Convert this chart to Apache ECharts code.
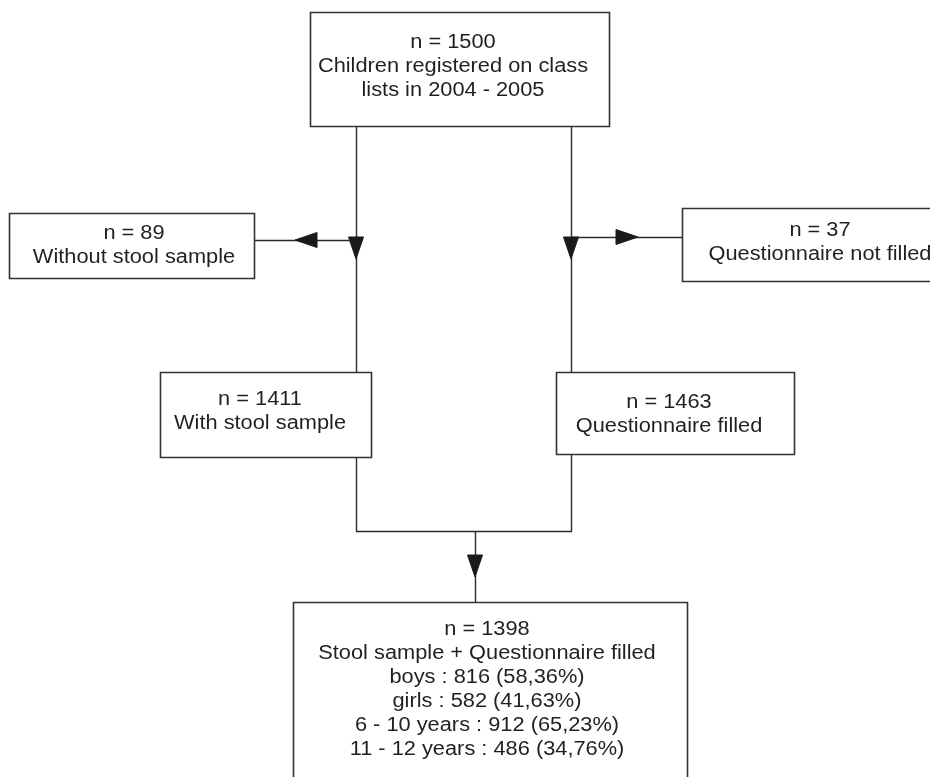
<!DOCTYPE html>
<html>
<head>
<meta charset="utf-8">
<script src="https://cdn.jsdelivr.net/npm/echarts@6/dist/echarts.min.js"></script>
<style>
html,body{margin:0;padding:0;background:#fff;}
#chart{width:930px;height:777px;}
</style>
</head>
<body>
<div id="chart"></div>
<script>
// ---- content (texts of the flowchart nodes) ----
var nodeTexts = [
  ['n = 1500', 'Children registered on class', 'lists in 2004 - 2005'],
  ['n = 89', 'Without stool sample'],
  ['n = 37', 'Questionnaire not filled'],
  ['n = 1411', 'With stool sample'],
  ['n = 1463', 'Questionnaire filled'],
  ['n = 1398', 'Stool sample + Questionnaire filled', 'boys : 816 (58,36%)', 'girls : 582 (41,63%)', '6 - 10 years : 912 (65,23%)', '11 - 12 years : 486 (34,76%)']
];

// ---- layout (data-space units of hidden axes: x 0..930, y 0..777) ----
// box: [x0, y0, x1, y1], text anchor: [cx, firstLineCenterY]
var boxRects = [
  [310, 12, 609, 126],
  [9, 213, 254, 278],
  [682, 208, 945, 281],
  [160, 372, 371, 457],
  [556, 372, 794, 454],
  [293, 602, 687, 800]
];
var textAnchors = [
  [453, 42],
  [134, 233],
  [820, 230],
  [260, 399],
  [669, 402],
  [487, 629]
];
var connectors = [
  [[356, 126], [356, 372]],
  [[571, 126], [571, 372]],
  [[356, 240], [254, 240]],
  [[571, 237], [682, 237]],
  [[356, 457], [356, 531], [571, 531], [571, 454]],
  [[475, 531], [475, 602]]
];
// arrow: [tipX, tipY, direction]
var arrows = [
  [295, 240, 'left'],
  [356, 259, 'down'],
  [571, 259, 'down'],
  [638, 237, 'right'],
  [475, 577, 'down']
];

var FONT = '20px "Liberation Sans", Arial, sans-serif';
var TEXT_COLOR = '#231f20';
var LINE_COLOR = '#2a2a2a';

var chart = echarts.init(document.getElementById('chart'), null, {renderer: 'canvas'});

function boxItem(params, api) {
  var i = params.dataIndex;
  var r = boxRects[i];
  var p0 = api.coord([r[0], r[1]]);
  var p1 = api.coord([r[2], r[3]]);
  var a = api.coord(textAnchors[i]);
  return {
    type: 'group',
    children: [
      {
        type: 'rect',
        shape: {x: Math.round(p0[0]) + 0.5, y: Math.round(p0[1]) + 0.5, width: Math.round(p1[0] - p0[0]), height: Math.round(p1[1] - p0[1])},
        style: {fill: '#fff', stroke: '#333', lineWidth: 1.6}
      },
      {
        type: 'text',
        x: a[0], y: a[1] - 12,
        scaleX: 1.09, scaleY: 1,
        style: {
          text: nodeTexts[i].join('\n'),
          x: 0, y: 0,
          align: 'center', verticalAlign: 'top',
          font: FONT, lineHeight: 24,
          fill: TEXT_COLOR
        }
      }
    ]
  };
}

function connectorItem(params, api) {
  var pts = connectors[params.dataIndex].map(function (p) {
    var c = api.coord(p);
    return [Math.round(c[0]) + 0.5, Math.round(c[1]) + 0.5];
  });
  return {
    type: 'polyline',
    shape: {points: pts},
    style: {stroke: LINE_COLOR, lineWidth: 1.4, fill: null}
  };
}

function arrowItem(params, api) {
  var a = arrows[params.dataIndex];
  var L = 22, H = 7.5;
  var tip = api.coord([a[0], a[1]]);
  var pts;
  if (a[2] === 'down') {
    pts = [[tip[0], tip[1]], [tip[0] - H, tip[1] - L], [tip[0] + H, tip[1] - L]];
  } else if (a[2] === 'left') {
    pts = [[tip[0], tip[1]], [tip[0] + L, tip[1] - H], [tip[0] + L, tip[1] + H]];
  } else {
    pts = [[tip[0], tip[1]], [tip[0] - L, tip[1] - H], [tip[0] - L, tip[1] + H]];
  }
  return {
    type: 'polygon',
    shape: {points: pts},
    style: {fill: '#1a1a1a', stroke: '#1a1a1a', lineWidth: 1}
  };
}

var option = {
  backgroundColor: '#ffffff',
  animation: false,
  grid: {left: 0, right: 0, top: 0, bottom: 0},
  xAxis: {type: 'value', min: 0, max: 930, show: false},
  yAxis: {type: 'value', min: 0, max: 777, inverse: true, show: false},
  series: [
    {
      type: 'custom', name: 'connectors', clip: false, silent: true, z: 1,
      renderItem: connectorItem,
      data: connectors.map(function (c) { return c[0]; })
    },
    {
      type: 'custom', name: 'boxes', clip: false, silent: true, z: 2,
      renderItem: boxItem,
      data: boxRects.map(function (r) { return [r[0], r[1]]; })
    },
    {
      type: 'custom', name: 'arrows', clip: false, silent: true, z: 3,
      renderItem: arrowItem,
      data: arrows.map(function (a) { return [a[0], a[1]]; })
    }
  ]
};
chart.setOption(option);
</script>
</body>
</html>
